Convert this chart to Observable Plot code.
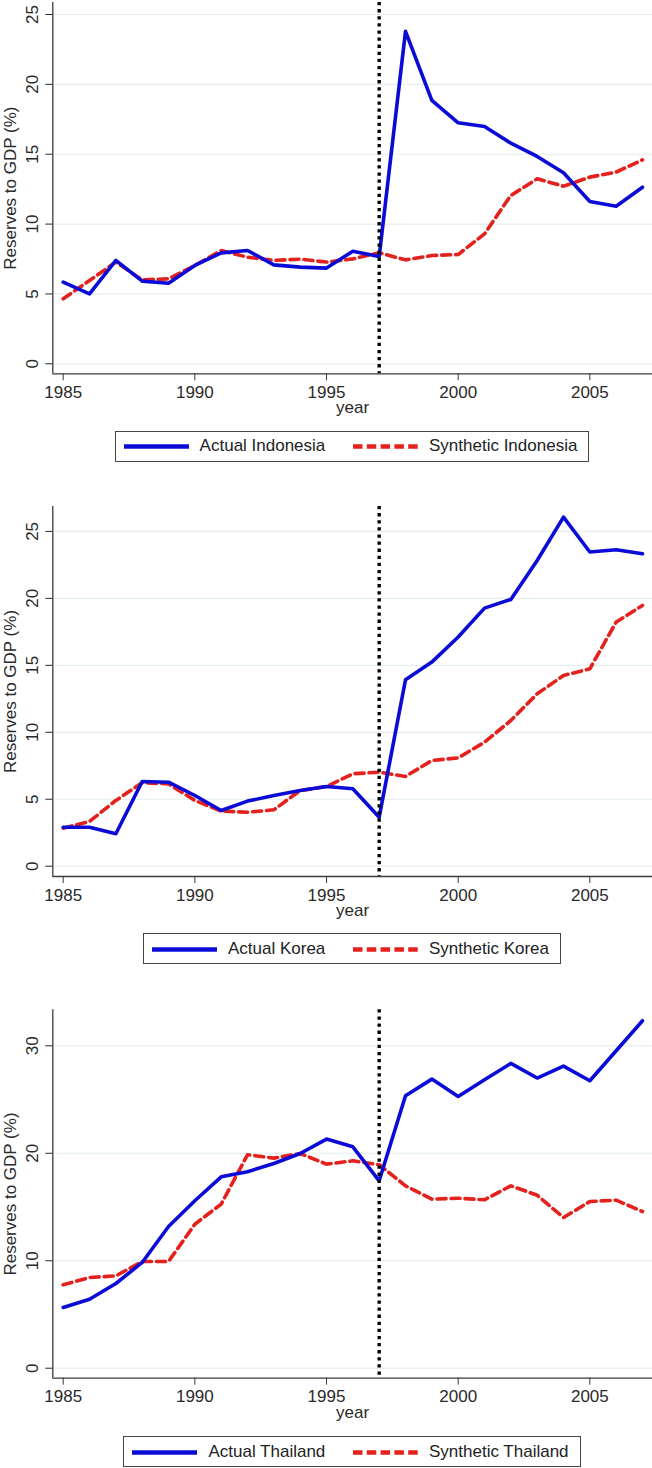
<!DOCTYPE html>
<html><head><meta charset="utf-8">
<script src="https://cdn.jsdelivr.net/npm/d3@7"></script>
<script src="https://cdn.jsdelivr.net/npm/@observablehq/plot@0.6"></script>
<style>
body{margin:0;background:#fff;width:652px;height:1468px;position:relative;overflow:hidden;font-family:"Liberation Sans",Arial,Helvetica,sans-serif;}
.panel{position:absolute;left:0;top:0;}
.legend{position:absolute;left:52px;width:600px;display:flex;justify-content:center;}
.box{box-sizing:border-box;border:1px solid #444;height:31px;display:grid;grid-template-columns:1fr 1fr;column-gap:5px;padding:0 11px 0 8px;align-items:center;background:#fff;}
.item{display:flex;align-items:center;white-space:nowrap;font-size:17px;color:#222;}
.item svg{margin-right:11px;display:block;}
</style>
</head><body>
<div id="root"></div>
<script>
// ---- data ----
const years = [1985,1986,1987,1988,1989,1990,1991,1992,1993,1994,1995,1996,1997,1998,1999,2000,2001,2002,2003,2004,2005,2006,2007];
const xTickYears = [1985,1990,1995,2000,2005];
const crisisYear = 1997;

const indonesiaActual    = [5.84,5.01,7.40,5.92,5.77,7.04,7.94,8.11,7.08,6.92,6.85,8.06,7.68,23.8,18.85,17.25,16.98,15.79,14.84,13.67,11.62,11.28,12.64];
const indonesiaSynthetic = [4.65,5.96,7.28,6.01,6.08,7.04,8.11,7.63,7.40,7.49,7.28,7.51,7.94,7.44,7.75,7.82,9.30,12.05,13.24,12.71,13.36,13.72,14.60];

const koreaActual    = [2.91,2.91,2.42,6.32,6.27,5.28,4.16,4.86,5.28,5.65,5.95,5.78,3.66,13.92,15.24,17.11,19.27,19.92,22.83,26.07,23.46,23.63,23.33];
const koreaSynthetic = [2.84,3.34,4.91,6.23,6.15,4.91,4.11,4.03,4.21,5.65,5.95,6.90,7.02,6.70,7.89,8.09,9.26,10.88,12.87,14.24,14.74,18.23,19.47];

const thailandActual    = [5.65,6.42,7.88,9.84,13.19,15.58,17.81,18.28,19.05,19.98,21.32,20.60,17.44,25.35,26.90,25.29,26.84,28.36,27.00,28.11,26.75,29.54,32.33];
const thailandSynthetic = [7.76,8.44,8.59,9.93,9.93,13.40,15.27,19.86,19.55,19.98,18.99,19.30,18.93,16.97,15.73,15.82,15.67,16.97,16.10,14.02,15.51,15.64,14.58];

const countries = ["Indonesia","Korea","Thailand"];
const yTicksA = [0,5,10,15,20,25];
const yTicksB = [0,10,20,30];

// ---- layout ----
const BLUE = "#0b0bd8", RED = "#e4211c";
const FONT = '"Liberation Sans", Arial, Helvetica, sans-serif';
const xDomain = [1984.605, 2007.38];

function makePanel(cfg) {
  const actual = years.map((yr, i) => ({year: yr, value: cfg.actual[i]}));
  const synth = years.map((yr, i) => ({year: yr, value: cfg.synthetic[i]}));
  const frameBottom = cfg.frameBottom; // svg coords
  const chart = Plot.plot({
    width: 652,
    height: cfg.height,
    marginLeft: 52.3,
    marginRight: 0,
    marginTop: cfg.marginTop,
    marginBottom: cfg.height - frameBottom,
    x: {domain: xDomain, label: null},
    y: {domain: cfg.yDomain, label: null},
    style: {fontFamily: FONT, fontSize: "17px", color: "#2a2a2a", background: "transparent", overflow: "visible"},
    marks: [
      Plot.gridY(cfg.yTicks, {stroke: "#e3eded", strokeOpacity: 1, strokeWidth: 1.2}),
      Plot.line(synth, {x: "year", y: "value", stroke: RED, strokeWidth: 3.6, strokeDasharray: "9,5"}),
      Plot.line(actual, {x: "year", y: "value", stroke: BLUE, strokeWidth: 3.6}),
      Plot.ruleX([crisisYear], {stroke: "#000", strokeWidth: 3.4, strokeDasharray: "3.3,3.8"}),
      Plot.ruleX([xDomain[0]], {stroke: "#3a3a3a", strokeWidth: 1.3}),
      Plot.ruleY([cfg.yDomain[0]], {stroke: "#3a3a3a", strokeWidth: 1.3}),
      Plot.axisX({ticks: xTickYears, tickSize: 7, tickPadding: 5, tickFormat: d => String(d), label: null, stroke: "#3a3a3a"}),
      Plot.axisY({ticks: cfg.yTicks, tickSize: 7, tickPadding: 8, tickRotate: -90, textAnchor: "middle", lineAnchor: "bottom", tickFormat: d => String(d), label: null}),
      Plot.text(["year"], {frameAnchor: "bottom", lineAnchor: "top", dy: 27.6, fontSize: 17}),
      Plot.text(["Reserves to GDP (%)"], {frameAnchor: "left", rotate: -90, lineAnchor: "bottom", textAnchor: "middle", dx: -36.6, fontSize: 17})
    ]
  });
  const wrap = document.createElement("div");
  wrap.className = "panel";
  wrap.style.top = cfg.top + "px";
  wrap.appendChild(chart);
  document.getElementById("root").appendChild(wrap);

  // legend
  const leg = document.createElement("div");
  leg.className = "legend";
  leg.style.top = cfg.legendTop + "px";
  const box = document.createElement("div");
  box.className = "box";
  const items = [
    {label: "Actual " + cfg.name, color: BLUE, dash: null},
    {label: "Synthetic " + cfg.name, color: RED, dash: "9.5,4.3"}
  ];
  for (const it of items) {
    const d = document.createElement("div");
    d.className = "item";
    const svg = d3.create("svg").attr("width", 65).attr("height", 8);
    svg.append("line").attr("x1", 0).attr("x2", 65).attr("y1", 4.5).attr("y2", 4.5)
      .attr("stroke", it.color).attr("stroke-width", 4.6)
      .attr("stroke-dasharray", it.dash);
    d.appendChild(svg.node());
    const s = document.createElement("span");
    s.textContent = it.label;
    d.appendChild(s);
    box.appendChild(d);
  }
  leg.appendChild(box);
  document.getElementById("root").appendChild(leg);
}

makePanel({name: countries[0], actual: indonesiaActual, synthetic: indonesiaSynthetic,
  top: 0, height: 425, marginTop: 2, frameBottom: 373.3, yDomain: [-0.716, 25.86], yTicks: yTicksA, legendTop: 430.7});
makePanel({name: countries[1], actual: koreaActual, synthetic: koreaSynthetic,
  top: 480, height: 448, marginTop: 26, frameBottom: 396, yDomain: [-0.77, 26.86], yTicks: yTicksA, legendTop: 933});
makePanel({name: countries[2], actual: thailandActual, synthetic: thailandSynthetic,
  top: 960, height: 470, marginTop: 49.3, frameBottom: 417.7, yDomain: [-0.93, 33.35], yTicks: yTicksB, legendTop: 1436});
</script>
</body></html>
